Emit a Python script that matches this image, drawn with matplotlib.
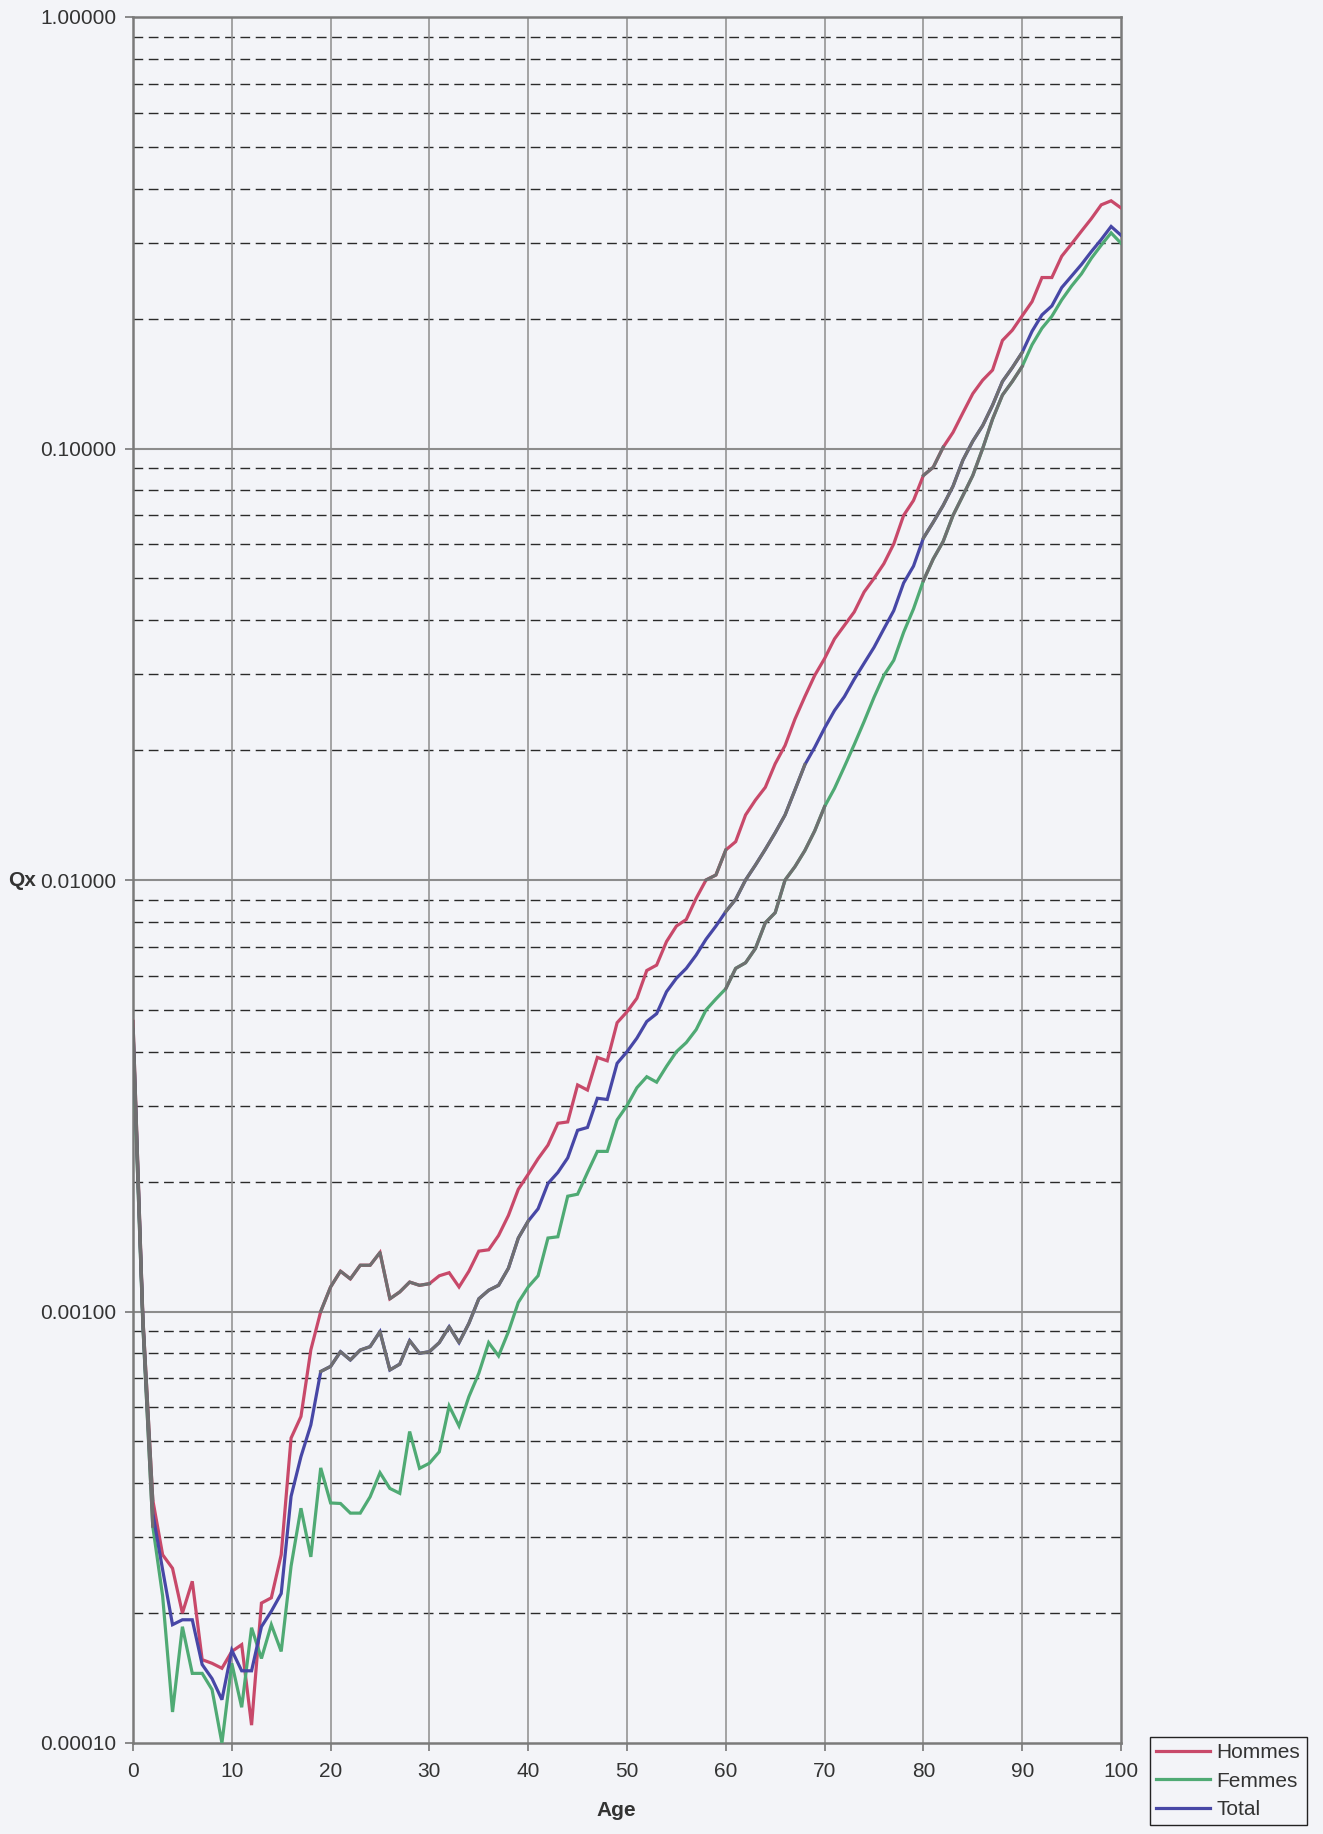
import matplotlib
matplotlib.use("Agg")
import matplotlib.pyplot as plt
from matplotlib.lines import Line2D

# ---------------- data ----------------
ages = list(range(101))

hommes = [
    0.0047, 0.00097, 0.000366, 0.000273, 0.000254, 0.000200, 0.000237, 0.000156, 0.000153, 0.000149,
    0.000163, 0.000169, 0.000110, 0.000211, 0.000217, 0.000273, 0.000509, 0.000571, 0.000815, 0.00100,
    0.00114, 0.00124, 0.00119, 0.00128, 0.00128, 0.00137, 0.00107, 0.00111, 0.00117, 0.00115,
    0.00116, 0.00121, 0.00123, 0.00114, 0.00124, 0.00138, 0.00139, 0.00150, 0.00167, 0.00192,
    0.00208, 0.00226, 0.00243, 0.00273, 0.00275, 0.00335, 0.00326, 0.00388, 0.00381, 0.00467,
    0.00495, 0.00532, 0.00617, 0.00635, 0.0072, 0.00782, 0.0081, 0.00907, 0.0100, 0.01027,
    0.01174, 0.01227, 0.01415, 0.01532, 0.0164, 0.0186, 0.0205, 0.0236, 0.0266, 0.0298,
    0.0326, 0.0362, 0.0389, 0.0418, 0.0465, 0.0500, 0.0541, 0.0601, 0.0700, 0.0758,
    0.0866, 0.0905, 0.1007, 0.109, 0.121, 0.134, 0.144, 0.152, 0.178, 0.188,
    0.203, 0.219, 0.249, 0.249, 0.279, 0.298, 0.319, 0.341, 0.367, 0.375,
    0.361,
]

femmes = [
    0.0042, 0.00093, 0.000318, 0.000219, 0.000118, 0.000186, 0.000145, 0.000145, 0.000133, 0.000100,
    0.000153, 0.000121, 0.000185, 0.000157, 0.000188, 0.000163, 0.000257, 0.000350, 0.000270, 0.000434,
    0.000360, 0.000359, 0.000341, 0.000341, 0.000372, 0.000423, 0.000389, 0.000379, 0.000527, 0.000433,
    0.000445, 0.000473, 0.000604, 0.000543, 0.000635, 0.000719, 0.000847, 0.000789, 0.000898, 0.00105,
    0.00114, 0.00121, 0.00148, 0.00149, 0.00185, 0.00187, 0.00210, 0.00235, 0.00235, 0.00278,
    0.0030, 0.0033, 0.0035, 0.0034, 0.0037, 0.0040, 0.0042, 0.0045, 0.0050, 0.0053,
    0.0056, 0.00624, 0.00643, 0.00694, 0.00796, 0.0084, 0.0100, 0.01074, 0.0117, 0.0130,
    0.0148, 0.0163, 0.0183, 0.0206, 0.0233, 0.0265, 0.0298, 0.0323, 0.0375, 0.0425,
    0.0494, 0.0555, 0.0609, 0.0700, 0.0778, 0.0866, 0.100, 0.117, 0.133, 0.143,
    0.155, 0.174, 0.190, 0.2025, 0.221, 0.238, 0.254, 0.276, 0.296, 0.316,
    0.299,
]

total = [
    0.0045, 0.00095, 0.000341, 0.000252, 0.000188, 0.000193, 0.000193, 0.000152, 0.000141, 0.000126,
    0.000164, 0.000147, 0.000147, 0.000186, 0.000202, 0.000222, 0.000373, 0.000461, 0.000546, 0.000726,
    0.000746, 0.000807, 0.000772, 0.000814, 0.000829, 0.000898, 0.000732, 0.000755, 0.000856, 0.000800,
    0.000807, 0.000847, 0.000922, 0.000847, 0.000939, 0.00107, 0.00112, 0.00115, 0.00126, 0.00148,
    0.00162, 0.00173, 0.00198, 0.00210, 0.00227, 0.00263, 0.00267, 0.00312, 0.00310, 0.00376,
    0.0040, 0.0043, 0.0047, 0.0049, 0.00551, 0.00592, 0.00624, 0.0067, 0.00729, 0.00782,
    0.00845, 0.00902, 0.0100, 0.01083, 0.01178, 0.01287, 0.01415, 0.01617, 0.0185, 0.0203,
    0.0225, 0.0247, 0.0266, 0.0292, 0.0318, 0.0346, 0.0382, 0.0421, 0.0488, 0.0534,
    0.0620, 0.0675, 0.0738, 0.0818, 0.094, 0.104, 0.113, 0.126, 0.143, 0.154,
    0.167, 0.187, 0.204, 0.214, 0.236, 0.251, 0.267, 0.286, 0.305, 0.327,
    0.312,
]

series_labels = ["Hommes", "Femmes", "Total"]
x_ticks = [0, 10, 20, 30, 40, 50, 60, 70, 80, 90, 100]
y_major = [0.0001, 0.001, 0.01, 0.1, 1.0]
y_major_labels = ["0.00010", "0.00100", "0.01000", "0.10000", "1.00000"]

# --------------- styling ---------------
BG = "#f3f4f8"
COLORS = ["#c8496a", "#4faa74", "#4747a6"]
SCAN_GREY = "#6f6f70"
# age ranges where the scanned lines appear grey
grey_ranges = [
    [(0, 2), (19, 30), (58, 60), (80, 82)],
    [(0, 2), (60, 70), (80, 90)],
    [(0, 2), (19, 40), (60, 68), (80, 90)],
]

plt.rcParams["font.family"] = ["Liberation Sans", "DejaVu Sans"]
FS = 15

fig = plt.figure(figsize=(13.23, 18.34), dpi=100, facecolor=BG)
ax = fig.add_axes([133 / 1323, 91 / 1834, (1121 - 133) / 1323, (1743 - 17) / 1834])
ax.set_facecolor(BG)
ax.set_yscale("log")
ax.set_xlim(0, 100)
ax.set_ylim(1e-4, 1.0)

# grid
for d in y_major[:-1]:
    for k in range(2, 10):
        ax.axhline(k * d, color="#2a2a2a", lw=1.0, ls=(0, (7, 4)), zorder=1)
for d in y_major[1:-1]:
    ax.axhline(d, color="#8c8c8c", lw=1.5, zorder=1)
for xv in x_ticks[1:-1]:
    ax.axvline(xv, color="#8c8c8c", lw=1.1, zorder=1)

# series
all_series = [hommes, femmes, total]
for vals, col, lab in zip(all_series, COLORS, series_labels):
    ax.plot(ages, vals, color=col, lw=2.3, zorder=3, label=lab, solid_joinstyle="miter")
for vals, ranges in zip(all_series, grey_ranges):
    for a0, a1 in ranges:
        ax.plot(ages[a0:a1 + 1], vals[a0:a1 + 1], color=SCAN_GREY, lw=2.3, zorder=4)

# ticks
ax.set_xticks(x_ticks)
ax.set_xticklabels([str(t) for t in x_ticks], fontsize=FS, color="#333333")
ax.set_yticks(y_major)
ax.set_yticklabels(y_major_labels, fontsize=FS, color="#333333")
ax.yaxis.set_minor_locator(matplotlib.ticker.NullLocator())
ax.tick_params(axis="both", which="major", length=6, width=1.2, color="#777777", pad=6)
ax.tick_params(axis="x", pad=8)
for sp in ax.spines.values():
    sp.set_color("#7a7a7a")
    sp.set_linewidth(1.8)

fig.text(8 / 1323, 1 - 880 / 1834, "Qx", fontsize=FS, fontweight="bold",
         va="center", ha="left", color="#333333")
fig.text(616 / 1323, 1 - 1810 / 1834, "Age", fontsize=FS, fontweight="bold",
         va="center", ha="center", color="#333333")

handles = [Line2D([0], [0], color=c, lw=2.3) for c in COLORS]
leg = fig.legend(handles, series_labels, loc="upper left",
                 bbox_to_anchor=(1150 / 1323, 1 - 1737 / 1834),
                 fontsize=FS, frameon=True, fancybox=False, edgecolor="#222222",
                 facecolor=BG, framealpha=1.0, handlelength=2.6, handletextpad=0.3,
                 borderpad=0.3, labelspacing=0.45, borderaxespad=0)
leg.get_frame().set_linewidth(1.0)
for t in leg.get_texts():
    t.set_color("#333333")

fig.savefig("out.png", dpi=100, facecolor=BG)
